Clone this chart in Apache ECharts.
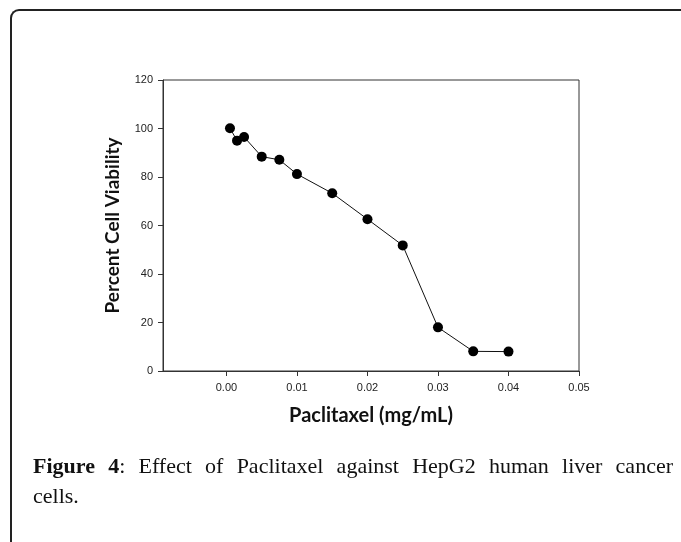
<!DOCTYPE html>
<html>
<head>
<meta charset="utf-8">
<script src="https://cdn.jsdelivr.net/npm/echarts@6/dist/echarts.min.js"></script>
<style>
  html, body { margin: 0; padding: 0; background: #fff; }
  #wrap { position: relative; width: 681px; height: 542px; overflow: hidden; }
  #frame {
    position: absolute; left: 10px; top: 9px; width: 700px; height: 560px;
    border-left: 2px solid #222; border-top: 2px solid #222;
    border-top-left-radius: 9px;
  }
  #chart { position: absolute; left: 0; top: 0; width: 681px; height: 542px; }
  #caption {
    position: absolute; left: 33px; top: 451px; width: 640px;
    font-family: "Liberation Serif", serif; font-size: 22px; line-height: 30px;
    color: #111;
  }
  #caption .l1 { text-align: justify; text-align-last: justify; }
</style>
</head>
<body>
<div id="wrap">
  <div id="frame"></div>
  <div id="chart"></div>
  <div id="caption">
    <div class="l1"><b>Figure 4</b>: Effect of Paclitaxel against HepG2 human liver cancer</div>
    <div>cells.</div>
  </div>
</div>
<script>
// paclitaxel dose (mg/mL) vs percent viability
const doses = [0.0005, 0.0015, 0.0025, 0.005, 0.0075, 0.01, 0.015, 0.02, 0.025, 0.03, 0.035, 0.04]
const viability = [100.1, 95.0, 96.5, 88.4, 87.1, 81.2, 73.3, 62.6, 51.8, 18.0, 8.1, 8.0]
const xTicks = [0, 0.01, 0.02, 0.03, 0.04, 0.05]

const chart = echarts.init(document.getElementById('chart'))
const axisColor = '#333'
const tickFont = { color: '#222', fontSize: 11, fontFamily: 'Liberation Sans' }

chart.setOption({
  animation: false,
  grid: {
    left: 163, right: 102, top: 80, height: 291,
    show: true, borderColor: axisColor, borderWidth: 1,
  },
  xAxis: {
    type: 'value',
    min: -0.009,
    max: 0.05,
    splitLine: { show: false },
    axisLine: { onZero: false, lineStyle: { color: axisColor } },
    axisTick: { customValues: xTicks, length: 5, lineStyle: { color: axisColor } },
    axisLabel: { ...tickFont, margin: 11, customValues: xTicks, formatter: (v) => v.toFixed(2) },
    name: 'Paclitaxel (mg/mL)',
    nameLocation: 'middle',
    nameGap: 35,
    nameTextStyle: { fontFamily: 'Lato', fontWeight: 'bold', fontSize: 20, color: '#111' },
  },
  yAxis: {
    type: 'value',
    min: 0,
    max: 120,
    interval: 20,
    splitLine: { show: false },
    axisLine: { show: true, onZero: false, lineStyle: { color: axisColor } },
    axisTick: { show: true, length: 5, lineStyle: { color: axisColor } },
    axisLabel: { ...tickFont, margin: 10 },
    name: 'Percent Cell Viability',
    nameLocation: 'middle',
    nameGap: 41,
    nameTextStyle: { fontFamily: 'Lato', fontWeight: 'bold', fontSize: 19, color: '#111' },
  },
  series: [
    {
      type: 'line',
      data: doses.map((d, i) => [d, viability[i]]),
      symbol: 'circle',
      symbolSize: 10,
      lineStyle: { color: '#111', width: 1 },
      itemStyle: { color: '#000' },
    },
  ],
})
</script>
</body>
</html>
